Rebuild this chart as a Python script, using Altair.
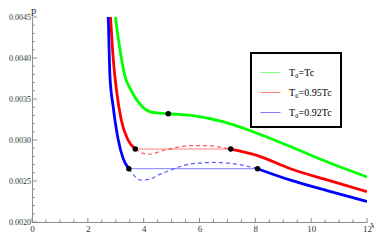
import altair as alt
import pandas as pd

# ---- data ----
names = ["T₀=Tc", "T₀=0.95Tc", "T₀=0.92Tc"]
colors = ["#00ff00", "#ff0000", "#0000ff"]

green_v = [2.93, 2.99, 3.15, 3.32, 3.56, 3.86, 4.27, 4.88, 5.7, 6.87, 8.08, 9.26, 10.45, 12.0]
green_p = [0.0047, 0.0045, 0.00411, 0.00379, 0.0036, 0.00344, 0.00334, 0.00332, 0.0033, 0.00322, 0.00308, 0.00292, 0.00275, 0.00255]

red_left_v = [2.76, 2.81, 2.91, 3.03, 3.2, 3.44, 3.70]
red_left_p = [0.0047, 0.0045, 0.00399, 0.0036, 0.00324, 0.0030, 0.00289]
red_loop_v = [3.70, 3.92, 4.21, 4.63, 5.1, 5.7, 6.29, 6.88, 7.12]
red_loop_p = [0.00289, 0.002845, 0.002826, 0.002865, 0.002904, 0.002932, 0.002932, 0.002904, 0.00289]
red_right_v = [7.12, 8.08, 9.26, 10.6, 12.0]
red_right_p = [0.00289, 0.00281, 0.00265, 0.00251, 0.00237]

blue_left_v = [2.68, 2.73, 2.79, 2.91, 3.09, 3.27, 3.47]
blue_left_p = [0.0047, 0.0045, 0.00379, 0.0034, 0.0030, 0.00277, 0.00265]
blue_loop_v = [3.47, 3.56, 3.7, 3.92, 4.2, 4.51, 5.1, 5.7, 6.53, 7.24, 8.08]
blue_loop_p = [0.00265, 0.00261, 0.00255, 0.00251, 0.00252, 0.00257, 0.00265, 0.00271, 0.002726, 0.00271, 0.00265]
blue_right_v = [8.08, 9.26, 10.6, 12.0]
blue_right_p = [0.00265, 0.00251, 0.00238, 0.00225]

tie_series = [names[1], names[1], names[2], names[2]]
tie_v = [3.70, 7.12, 3.47, 8.08]
tie_p = [0.00289, 0.00289, 0.00265, 0.00265]

dot_v = [4.88, 3.70, 7.12, 3.47, 8.08]
dot_p = [0.00332, 0.00289, 0.00289, 0.00265, 0.00265]

x_major = [0, 2, 4, 6, 8, 10, 12]
x_minor = [0.5, 1, 1.5, 2.5, 3, 3.5, 4.5, 5, 5.5, 6.5, 7, 7.5, 8.5, 9, 9.5, 10.5, 11, 11.5]
y_major = [0.0020, 0.0025, 0.0030, 0.0035, 0.0040, 0.0045]
y_minor = [0.0021, 0.0022, 0.0023, 0.0024, 0.0026, 0.0027, 0.0028, 0.0029,
           0.0031, 0.0032, 0.0033, 0.0034, 0.0036, 0.0037, 0.0038, 0.0039,
           0.0041, 0.0042, 0.0043, 0.0044]

# ---- tables ----
def seg(series, segid, vs, ps):
    return pd.DataFrame({"series": series, "seg": segid, "v": vs, "P": ps})

solid = pd.concat([
    seg(names[0], "g", green_v, green_p),
    seg(names[1], "rl", red_left_v, red_left_p),
    seg(names[1], "rr", red_right_v, red_right_p),
    seg(names[2], "bl", blue_left_v, blue_left_p),
    seg(names[2], "br", blue_right_v, blue_right_p),
])
loops = pd.concat([
    seg(names[1], "rloop", red_loop_v, red_loop_p),
    seg(names[2], "bloop", blue_loop_v, blue_loop_p),
])
ties = pd.DataFrame({"series": tie_series, "v": tie_v, "P": tie_p})
dots = pd.DataFrame({"v": dot_v, "P": dot_p})
xmaj = pd.DataFrame({"v": x_major})
xmin = pd.DataFrame({"v": x_minor})
ymaj = pd.DataFrame({"P": y_major})
ymin = pd.DataFrame({"P": y_minor})

W, H = 335, 205
AXC = "#8c8c8c"
FONT = "Liberation Serif"

xs = alt.Scale(domain=[0, 12], nice=False, zero=False)
ys = alt.Scale(domain=[0.0020, 0.0045], nice=False, zero=False)
x_axis = alt.Axis(values=x_major, format="d", ticks=False, tickSize=0, grid=False,
                  domainColor=AXC, labelFont=FONT, labelFontSize=9, labelColor="#333333",
                  labelPadding=2, labelFlush=False, labelOverlap=False,
                  title="v", titleFont=FONT, titleFontSize=10, titleFontWeight="normal",
                  titleColor="#333333", titleAngle=0, titleX=W + 3, titleY=2,
                  titleAlign="left", titleBaseline="middle")
y_axis = alt.Axis(values=y_major, format=".4f", ticks=False, tickSize=0, grid=False,
                  domainColor=AXC, labelFont=FONT, labelFontSize=8, labelColor="#333333",
                  labelPadding=1.5, labelFlush=False, labelOverlap=False,
                  title="P", titleFont=FONT, titleFontSize=10, titleFontWeight="normal",
                  titleColor="#333333", titleAngle=0, titleX=1, titleY=-2,
                  titleAlign="center", titleBaseline="alphabetic")

X = alt.X("v:Q", scale=xs, axis=x_axis)
Y = alt.Y("P:Q", scale=ys, axis=y_axis)
cscale = alt.Scale(domain=names, range=colors)

# thin, pale tie lines carry the legend, so the legend keys look thin and pale as in the reference
tie_layer = alt.Chart(ties).mark_line(strokeWidth=1, opacity=0.5, clip=True).encode(
    x=X, y=Y,
    color=alt.Color("series:N", scale=cscale,
                    legend=alt.Legend(title=None, orient="none", legendX=219, legendY=36,
                                      symbolType="stroke", symbolSize=400, symbolStrokeWidth=1,
                                      labelFont=FONT, labelFontSize=10,
                                      labelColor="black", labelOffset=8, rowPadding=4,
                                      padding=9, strokeColor="black", fillColor="white")))

loop_layer = alt.Chart(loops).mark_line(strokeWidth=1.2, opacity=0.65, strokeDash=[4, 3],
                                         interpolate="monotone", clip=True).encode(
    x=X, y=Y, color=alt.Color("series:N", scale=cscale, legend=None), detail="seg:N")

solid_layer = alt.Chart(solid).mark_line(strokeWidth=2.8, interpolate="monotone", clip=True).encode(
    x=X, y=Y, color=alt.Color("series:N", scale=cscale, legend=None), detail="seg:N")

dot_layer = alt.Chart(dots).mark_circle(size=30, color="black", opacity=1, clip=True).encode(x=X, y=Y)

xmaj_layer = alt.Chart(xmaj).mark_rule(color=AXC, strokeWidth=1).encode(
    x=X, y=alt.value(H), y2=alt.value(H - 4))
xmin_layer = alt.Chart(xmin).mark_rule(color=AXC, strokeWidth=1).encode(
    x=X, y=alt.value(H), y2=alt.value(H - 2.5))
ymaj_layer = alt.Chart(ymaj).mark_rule(color=AXC, strokeWidth=1).encode(
    y=Y, x=alt.value(0), x2=alt.value(5))
ymin_layer = alt.Chart(ymin).mark_rule(color=AXC, strokeWidth=1).encode(
    y=Y, x=alt.value(0), x2=alt.value(3))

chart = alt.layer(
    tie_layer, loop_layer, solid_layer, dot_layer,
    xmaj_layer, xmin_layer, ymaj_layer, ymin_layer
).properties(
    width=W, height=H,
    autosize=alt.AutoSizeParams(type="none"),
    padding={"left": 24, "top": 9, "right": 7, "bottom": 11},
    background="white",
).configure_view(stroke=None).configure_legend(strokeWidth=2)

chart.save("out.html", embed_options={"renderer": "svg", "actions": False})
